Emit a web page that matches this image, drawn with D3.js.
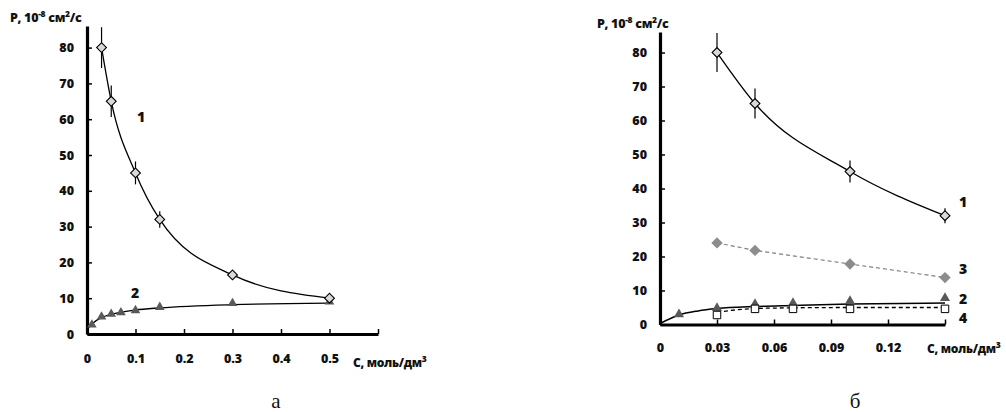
<!DOCTYPE html>
<html lang="ru">
<head>
<meta charset="UTF-8">
<title>P vs C</title>
<script src="https://cdn.jsdelivr.net/npm/d3@7"></script>
<style>
  body { margin: 0; background: #fff; }
  svg text { font-family: "Open Sans", "Noto Sans", sans-serif; font-weight: 800; fill: #111; }
</style>
</head>
<body>
<div id="chart"></div>
<script>
// ---- panel а ----
const aC1 = [0.03, 0.05, 0.1, 0.15, 0.3, 0.5];
const aP1 = [80, 65, 45, 32, 16.5, 10];
const aErr1 = [5.7, 4.4, 3.2, 2.3, 0, 0];
const aC2 = [0.01, 0.03, 0.05, 0.07, 0.1, 0.15, 0.3, 0.5];
const aP2 = [2.6, 4.8, 5.6, 6.0, 6.6, 7.5, 8.6, 9.0];
// fitted curve 2
const aTrendC2 = [0, 0.01, 0.03, 0.05, 0.1, 0.15, 0.3, 0.5];
const aTrendP2 = [1.2, 2.8, 4.6, 5.5, 6.7, 7.3, 8.2, 8.6];
const aTicksX = [0, 0.1, 0.2, 0.3, 0.4, 0.5, 0.6];
const aTickLabels = ["0", "0.1", "0.2", "0.3", "0.4", "0.5", ""];

// ---- panel б ----
const bC1 = [0.03, 0.05, 0.1, 0.15];
const bP1 = [80, 65, 45, 32];
const bErr1 = [5.7, 4.4, 3.2, 2.2];
const bC2 = [0.01, 0.03, 0.05, 0.07, 0.1, 0.15];
const bP2 = [3.0, 4.8, 6.0, 6.3, 6.9, 7.8];
const bTrendC2 = [0, 0.01, 0.02, 0.03, 0.05, 0.07, 0.1, 0.15];
const bTrendP2 = [0.3, 2.8, 4.0, 4.7, 5.3, 5.6, 6.0, 6.3];
const bC3 = [0.03, 0.05, 0.1, 0.15];
const bP3 = [24, 21.8, 17.8, 13.8];
const bC4 = [0.03, 0.05, 0.07, 0.1, 0.15];
const bP4 = [2.8, 4.6, 4.6, 4.6, 4.6];
const bTrendC4 = [0.03, 0.04, 0.05, 0.07, 0.1, 0.15];
const bTrendP4 = [3.6, 4.3, 4.7, 4.9, 5.0, 5.0];
const bTicksX = [0, 0.03, 0.06, 0.09, 0.12, 0.15];
const bTickLabels = ["0", "0.03", "0.06", "0.09", "0.12", ""];

const yTicks = [0, 10, 20, 30, 40, 50, 60, 70, 80];
const zip = (xs, ys) => xs.map((x, i) => [x, ys[i]]);

const svg = d3.select("#chart").append("svg")
  .attr("width", 1006).attr("height", 412);

function drawPanel(o) {
  const g = svg.append("g");
  const x = d3.scaleLinear().domain(o.xDomain).range(o.xRange);
  const y = d3.scaleLinear().domain([0, 86]).range(o.yRange);

  // axes
  const ax = g.append("g").attr("transform", `translate(0,${o.yRange[0]})`)
    .call(d3.axisBottom(x).tickValues(o.ticksX).tickFormat((d, i) => o.tickLabels[i])
      .tickSize(-5).tickSizeOuter(0).tickPadding(o.xPad));
  const ay = g.append("g").attr("transform", `translate(${o.xRange[0]},0)`)
    .call(d3.axisLeft(y).tickValues(yTicks).tickSize(-5).tickSizeOuter(0).tickPadding(13));
  [ax, ay].forEach(a => {
    a.select(".domain").attr("stroke", "#000").attr("stroke-width", 3.2);
    a.selectAll(".tick line").attr("stroke", "#000").attr("stroke-width", 1.5);
    a.selectAll("text").attr("font-size", 12.5).attr("font-family", null).attr("fill", "#111");
  });
  ax.selectAll(".tick").filter(d => d === 0).select("line").remove();

  const line = curve => d3.line().x(d => x(d[0])).y(d => y(d[1])).curve(curve);

  // curves
  o.curves.forEach(c => {
    g.append("path").datum(c.pts).attr("d", line(c.curve)(c.pts))
      .attr("fill", "none").attr("stroke", c.color).attr("stroke-width", c.width || 1.3)
      .attr("stroke-dasharray", c.dash || null);
  });

  // error bars
  o.err.forEach(e => {
    e.pts.forEach((p, i) => {
      if (!e.err[i]) return;
      g.append("line").attr("x1", x(p[0])).attr("x2", x(p[0]))
        .attr("y1", y(p[1] + e.err[i])).attr("y2", y(p[1] - e.err[i]))
        .attr("stroke", "#000").attr("stroke-width", 1.2);
    });
  });

  // markers
  o.markers.forEach(m => {
    g.append("g").selectAll("path").data(m.pts).join("path")
      .attr("transform", d => `translate(${x(d[0])},${y(d[1])})${m.rot ? " rotate(45)" : ""}`)
      .attr("d", d3.symbol().type(m.type).size(m.size))
      .attr("fill", m.fill).attr("stroke", m.stroke).attr("stroke-width", m.sw);
  });

  // texts
  o.labels.forEach(l => {
    g.append("text").attr("x", l.x).attr("y", l.y).attr("font-size", l.size || 14).text(l.t);
  });

  // y title
  const t = g.append("text").attr("x", o.title[0]).attr("y", o.title[1]).attr("font-size", 12.5)
    .attr("letter-spacing", -0.3);
  t.append("tspan").text("P, 10");
  t.append("tspan").attr("font-size", 8.5).attr("dy", -5).text("-8");
  t.append("tspan").attr("dy", 5).text(" см");
  t.append("tspan").attr("font-size", 8.5).attr("dy", -5).text("2");
  t.append("tspan").attr("dy", 5).text("/с");

  // x title
  const xt = g.append("text").attr("x", o.xTitle[0]).attr("y", o.xTitle[1]).attr("font-size", 12)
    .attr("letter-spacing", -0.3);
  xt.append("tspan").text("С, моль/дм");
  xt.append("tspan").attr("font-size", 8.5).attr("dy", -5).text("3");

  svg.append("text").attr("x", o.letter[0]).attr("y", o.letter[1])
    .attr("text-anchor", "middle").attr("font-size", 21)
    .style("font-family", "'Liberation Serif', 'Times New Roman', serif").style("font-weight", 400)
    .text(o.letter[2]);
}

const diamond = { type: d3.symbolSquare, size: 48, rot: true, fill: "#d9d9d9", stroke: "#000", sw: 1.1 };
const tri = { type: d3.symbolTriangle, size: 40, fill: "#595959", stroke: "none", sw: 0 };

drawPanel({
  xDomain: [0, 0.6], xRange: [87, 378], yRange: [334, 334 - 3.58 * 86],
  ticksX: aTicksX, tickLabels: aTickLabels, xPad: 20,
  curves: [
    { pts: zip(aC1, aP1), curve: d3.curveMonotoneX, color: "#000" },
    { pts: zip(aTrendC2, aTrendP2), curve: d3.curveMonotoneX, color: "#000" }
  ],
  err: [{ pts: zip(aC1, aP1), err: aErr1 }],
  markers: [
    Object.assign({}, tri, { pts: zip(aC2, aP2) }),
    Object.assign({}, diamond, { pts: zip(aC1, aP1) })
  ],
  labels: [{ x: 137, y: 122, t: "1" }, { x: 131, y: 298, t: "2" }],
  title: [10, 22], xTitle: [353, 367], letter: [276, 408, "а"]
});

drawPanel({
  xDomain: [0, 0.15], xRange: [660, 945], yRange: [324.5, 324.5 - 3.4 * 86],
  ticksX: bTicksX, tickLabels: bTickLabels, xPad: 19,
  curves: [
    { pts: zip(bC1, bP1), curve: d3.curveMonotoneX, color: "#000" },
    { pts: zip(bC3, bP3), curve: d3.curveLinear, color: "#808080", dash: "4,3", width: 1.2 },
    { pts: zip(bTrendC2, bTrendP2), curve: d3.curveMonotoneX, color: "#000", width: 1.5 },
    { pts: zip(bTrendC4, bTrendP4), curve: d3.curveMonotoneX, color: "#000", dash: "4,3", width: 1.3 }
  ],
  err: [{ pts: zip(bC1, bP1), err: bErr1 }],
  markers: [
    Object.assign({}, tri, { pts: zip(bC2, bP2), size: 44 }),
    { type: d3.symbolSquare, size: 56, fill: "#fff", stroke: "#000", sw: 1, pts: zip(bC4, bP4) },
    Object.assign({}, diamond, { pts: zip(bC3, bP3), fill: "#8c8c8c", stroke: "#8c8c8c" }),
    Object.assign({}, diamond, { pts: zip(bC1, bP1) })
  ],
  labels: [
    { x: 959, y: 207, t: "1" }, { x: 959, y: 274, t: "3" },
    { x: 959, y: 304, t: "2" }, { x: 959, y: 323, t: "4" }
  ],
  title: [597, 28], xTitle: [927, 353], letter: [855, 408, "б"]
});
</script>
</body>
</html>
